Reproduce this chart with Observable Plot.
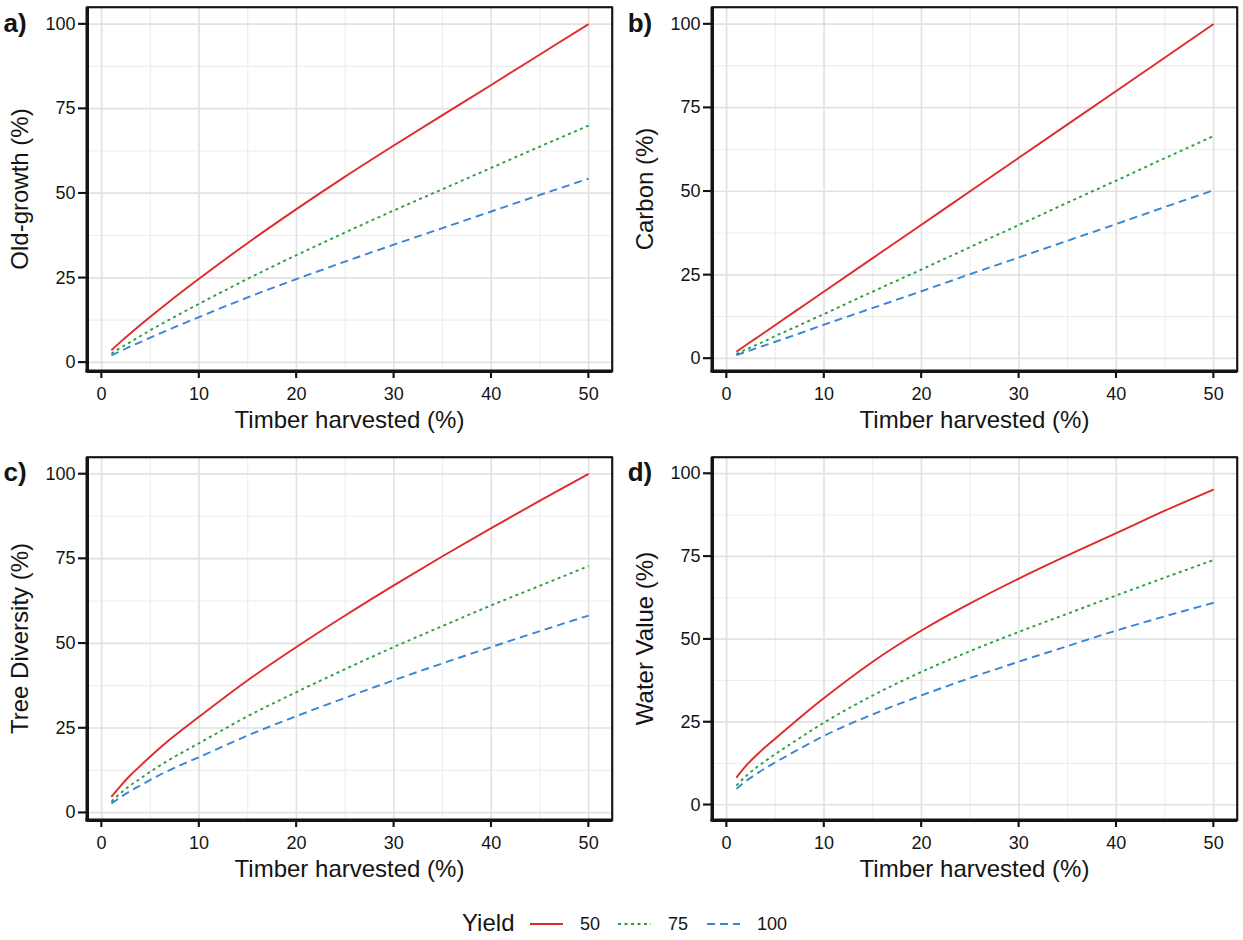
<!DOCTYPE html>
<html><head><meta charset="utf-8">
<script src="https://cdn.jsdelivr.net/npm/d3@7"></script>
<script src="https://cdn.jsdelivr.net/npm/@observablehq/plot@0.6"></script>
<style>
body{margin:0;background:#fff;font-family:"Liberation Sans",Arial,sans-serif}
#chart{position:relative;width:1243px;height:940px;background:#fff}
#chart svg{position:absolute}
</style></head><body><div id="chart"></div>
<script>
// ---- data ----
const harvest = [1, 2, 3, 4, 5, 7, 10, 15, 20, 25, 30, 35, 40, 45, 50];
const yieldLevels = ["50", "75", "100"];

const oldGrowth50  = [3.6, 6.2, 8.7, 11.1, 13.5, 18.1, 24.7, 35.3, 45.3, 54.9, 64.1, 73.1, 82.0, 91.0, 100.0];
const oldGrowth75  = [2.6, 4.4, 6.1, 7.8, 9.5, 12.7, 17.3, 24.7, 31.7, 38.4, 44.9, 51.2, 57.5, 63.8, 70.0];
const oldGrowth100 = [2.1, 3.4, 4.8, 6.0, 7.3, 9.8, 13.4, 19.2, 24.6, 29.8, 34.8, 39.7, 44.6, 49.5, 54.3];

const carbon50  = [2.0, 4.0, 6.0, 8.0, 10.0, 14.0, 20.0, 30.0, 40.0, 50.0, 60.0, 70.0, 80.0, 90.0, 100.0];
const carbon75  = [1.3, 2.7, 4.0, 5.3, 6.7, 9.3, 13.3, 20.0, 26.6, 33.3, 39.9, 46.6, 53.2, 59.9, 66.5];
const carbon100 = [1.0, 2.0, 3.0, 4.0, 5.0, 7.0, 10.1, 15.1, 20.1, 25.2, 30.2, 35.2, 40.2, 45.3, 50.3];

const treeDiv50  = [4.7, 8.1, 11.2, 13.9, 16.6, 21.6, 28.3, 39.1, 48.9, 58.2, 67.1, 75.7, 84.0, 92.1, 100.0];
const treeDiv75  = [3.3, 5.9, 8.2, 10.1, 12.1, 15.7, 20.5, 28.5, 35.6, 42.4, 48.9, 55.1, 61.2, 67.0, 72.8];
const treeDiv100 = [2.7, 4.7, 6.5, 8.1, 9.7, 12.6, 16.4, 22.8, 28.5, 33.9, 39.1, 44.1, 48.9, 53.6, 58.2];

const water50  = [8.2, 11.8, 14.8, 17.5, 20.0, 25.0, 32.2, 43.2, 52.6, 60.8, 68.3, 75.3, 82.0, 88.8, 95.2];
const water75  = [5.8, 8.7, 11.1, 13.3, 15.3, 19.2, 24.8, 33.0, 40.1, 46.4, 52.2, 57.7, 63.2, 68.6, 73.9];
const water100 = [4.8, 7.2, 9.2, 11.1, 12.8, 16.1, 20.8, 27.3, 33.0, 38.3, 43.2, 47.9, 52.6, 56.9, 61.0];

const xMajor = [0, 10, 20, 30, 40, 50];
const xMinor = [5, 15, 25, 35, 45];
const yMajor = [0, 25, 50, 75, 100];
const yMinor = [12.5, 37.5, 62.5, 87.5];

const xLabel = "Timber harvested (%)";
const legendTitle = "Yield";

// ---- styles ----
const colors = {"50": "#E02A2A", "75": "#2E9E3E", "100": "#3884D6"};
const dashes = {"50": null, "75": "3,3.5", "100": "8,5"};
const INK = "#141414";
const FONT = "'Liberation Sans', Arial, Helvetica, sans-serif";
const xDomain = [-1.45, 52.45];

const panels = [
  {tag: "a)", ylabel: "Old-growth (%)", series: [oldGrowth50, oldGrowth75, oldGrowth100], yDomain: [-2.7, 104.9],
   left: 0, top: 0, width: 620, height: 440, mL: 87, mR: 8, mT: 7, mB: 69},
  {tag: "b)", ylabel: "Carbon (%)", series: [carbon50, carbon75, carbon100], yDomain: [-3.9, 104.95],
   left: 620, top: 0, width: 623, height: 440, mL: 92, mR: 6, mT: 7, mB: 69},
  {tag: "c)", ylabel: "Tree Diversity (%)", series: [treeDiv50, treeDiv75, treeDiv100], yDomain: [-2.3, 104.85],
   left: 0, top: 440, width: 620, height: 460, mL: 87, mR: 8, mT: 17, mB: 80},
  {tag: "d)", ylabel: "Water Value (%)", series: [water50, water75, water100], yDomain: [-4.75, 104.85],
   left: 620, top: 440, width: 623, height: 460, mL: 92, mR: 6, mT: 17, mB: 80}
];

const chart = document.getElementById("chart");

for (const p of panels) {
  const data = [];
  yieldLevels.forEach((k, i) => harvest.forEach((x, j) => data.push({x, y: p.series[i][j], k})));
  const svg = Plot.plot({
    width: p.width, height: p.height,
    marginLeft: p.mL, marginRight: p.mR, marginTop: p.mT, marginBottom: p.mB,
    x: {domain: xDomain},
    y: {domain: p.yDomain},
    style: {fontFamily: FONT, fontSize: "18px", color: INK, background: "transparent"},
    marks: [
      Plot.ruleX(xMinor, {stroke: "#ededed", strokeWidth: 1.1}),
      Plot.ruleY(yMinor, {stroke: "#ededed", strokeWidth: 1.1}),
      Plot.ruleX(xMajor, {stroke: "#e2e2e2", strokeWidth: 1.7}),
      Plot.ruleY(yMajor, {stroke: "#e2e2e2", strokeWidth: 1.7}),
      ...yieldLevels.map(k => Plot.line(data.filter(d => d.k === k), {
        x: "x", y: "y", stroke: colors[k], strokeWidth: 1.9,
        strokeDasharray: dashes[k], strokeLinecap: "butt", curve: "monotone-x"
      })),
      Plot.frame({stroke: INK, strokeWidth: 1.6}),
      Plot.ruleX([xDomain[0]], {stroke: INK, strokeWidth: 3}),
      Plot.ruleY([p.yDomain[0]], {stroke: INK, strokeWidth: 3}),
      Plot.axisX(xMajor, {tickSize: 7, tickPadding: 9, fontSize: 18, stroke: INK, strokeWidth: 1.6, label: null, fill: INK}),
      Plot.axisY(yMajor, {tickSize: 9, tickPadding: 3, fontSize: 18, stroke: INK, strokeWidth: 1.6, label: null, fill: INK})
    ]
  });
  svg.style.left = p.left + "px";
  svg.style.top = p.top + "px";
  chart.appendChild(svg);
  const s = d3.select(svg);
  const sx = svg.scale("x"), sy = svg.scale("y");
  const fL = p.mL, fR = p.width - p.mR, fT = p.mT, fB = p.height - p.mB;

  // panel border, axis lines and ticks (drawn again as plain SVG from Plot's scales)
  const g = s.append("g").attr("stroke", INK).attr("fill", "none");
  g.append("rect").attr("x", fL).attr("y", fT).attr("width", fR - fL).attr("height", fB - fT).attr("stroke-width", 1.6);
  g.append("line").attr("x1", fL).attr("x2", fL).attr("y1", fT).attr("y2", fB + 1.5).attr("stroke-width", 3);
  g.append("line").attr("x1", fL - 1.5).attr("x2", fR).attr("y1", fB).attr("y2", fB).attr("stroke-width", 3);
  for (const v of xMajor) {
    const px = sx.apply(v);
    g.append("line").attr("x1", px).attr("x2", px).attr("y1", fB).attr("y2", fB + 7).attr("stroke-width", 1.6);
  }
  for (const v of yMajor) {
    const py = sy.apply(v);
    g.append("line").attr("x1", fL - 9).attr("x2", fL).attr("y1", py).attr("y2", py).attr("stroke-width", 1.6);
  }

  s.append("text")
    .attr("x", (fL + fR) / 2).attr("y", fB + 57)
    .attr("text-anchor", "middle").attr("font-size", 24).attr("font-family", FONT).attr("fill", INK)
    .text(xLabel);
  s.append("text")
    .attr("transform", `translate(${fL - 59},${(fT + fB) / 2}) rotate(-90)`)
    .attr("text-anchor", "middle").attr("font-size", 24).attr("font-family", FONT).attr("fill", INK)
    .text(p.ylabel);
  s.append("text")
    .attr("x", fL - 72).attr("y", sy.apply(100) + 8)
    .attr("font-size", 26).attr("font-weight", "bold").attr("font-family", FONT).attr("fill", INK)
    .text(p.tag);
}

// ---- legend ----
const leg = d3.create("svg").attr("width", 1243).attr("height", 40)
  .style("left", "0px").style("top", "900px");
leg.append("text").attr("x", 462).attr("y", 31).attr("font-size", 24).attr("font-family", FONT).attr("fill", INK).text(legendTitle);
const keyX = {"50": 530, "75": 618, "100": 707};
for (const k of yieldLevels) {
  leg.append("line").attr("x1", keyX[k]).attr("x2", keyX[k] + 33).attr("y1", 24).attr("y2", 24)
    .attr("stroke", colors[k]).attr("stroke-width", 1.9)
    .attr("stroke-dasharray", dashes[k]).attr("stroke-linecap", "butt");
  leg.append("text").attr("x", keyX[k] + 50).attr("y", 30).attr("font-size", 18).attr("font-family", FONT).attr("fill", INK).text(k);
}
chart.appendChild(leg.node());
</script></body></html>
